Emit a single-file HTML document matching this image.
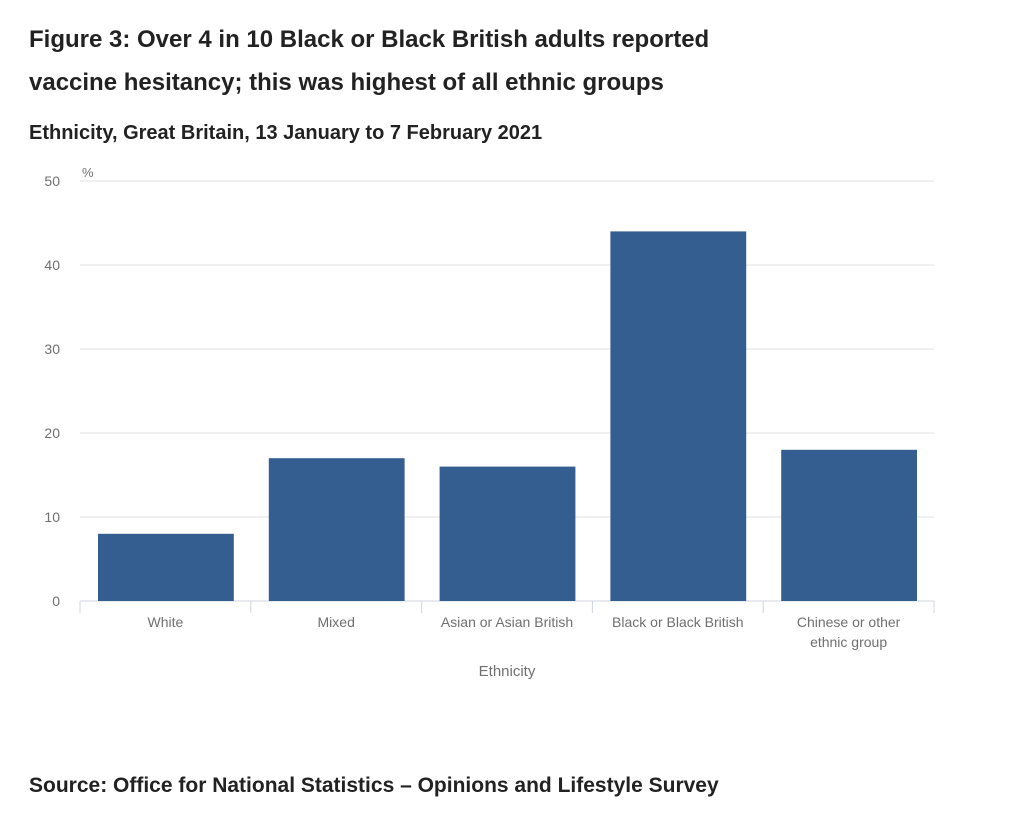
<!DOCTYPE html>
<html><head><meta charset="utf-8"><style>
body{margin:0;background:#fff;font-family:"Liberation Sans",sans-serif;}
#wrap{position:relative;width:1024px;height:822px;overflow:hidden;}
.t{position:absolute;left:29px;color:#222;font-weight:bold;}
</style></head><body>
<div id="wrap">
<div class="t" style="top:18px;font-size:24px;line-height:43px;">Figure 3: Over 4 in 10 Black or Black British adults reported<br>vaccine hesitancy; this was highest of all ethnic groups</div>
<div class="t" style="top:122px;font-size:20px;">Ethnicity, Great Britain, 13 January to 7 February 2021</div>
<svg id="chart" width="1024" height="700" style="position:absolute;left:0;top:0" font-family="Liberation Sans, sans-serif"></svg>
<div class="t" style="top:774px;font-size:21px;">Source: Office for National Statistics – Opinions and Lifestyle Survey</div>
</div>
<script>
const categories=["White","Mixed","Asian or Asian British","Black or Black British","Chinese or other|ethnic group"];
const values=[8,17,16,44,18];
const yTicks=[0,10,20,30,40,50];
const svg=document.getElementById('chart');
const NS='http://www.w3.org/2000/svg';
const x0=80,x1=934,yBase=601,yTop=181,yMax=50;
const y=v=>yBase-(yBase-yTop)*v/yMax;
const bw=(x1-x0)/categories.length;
function mk(tag,attrs,parent){const e=document.createElementNS(NS,tag);for(const k in attrs)e.setAttribute(k,attrs[k]);(parent||svg).appendChild(e);return e;}
yTicks.forEach(t=>{
 const g=mk('line',{x1:x0,x2:x1,y1:y(t),y2:y(t),stroke:t===0?'#d0d4e0':'#e2e2e2','stroke-width':1});
 
 
 const l=mk('text',{x:60,y:y(t)+5,'text-anchor':'end','font-size':14,fill:'#707070'});
 l.textContent=t;
 
 
});
const pc=mk('text',{x:82,y:177,'font-size':13,fill:'#707070'});pc.textContent='%';


for(let i=0;i<=categories.length;i++){
 const tk=mk('line',{x1:x0+i*bw,x2:x0+i*bw,y1:yBase,y2:yBase+12,stroke:'#d0d4e0'});
 
 
}
categories.forEach((c,i)=>{
 const bx=x0+i*bw+18;
 const r=mk('rect',{x:bx,y:y(values[i]),width:bw-35,height:yBase-y(values[i]),fill:'#335e8f'});
 
 
 c.split('|').forEach((ln,j)=>{
  const t=mk('text',{x:x0+(i+0.5)*bw,y:627+j*20,'text-anchor':'middle','font-size':14,fill:'#707070'});
  t.textContent=ln;
  
  
 });
});
const xt=mk('text',{x:507,y:676,'text-anchor':'middle','font-size':15,fill:'#707070'});xt.textContent='Ethnicity';


</script>
</body></html>
